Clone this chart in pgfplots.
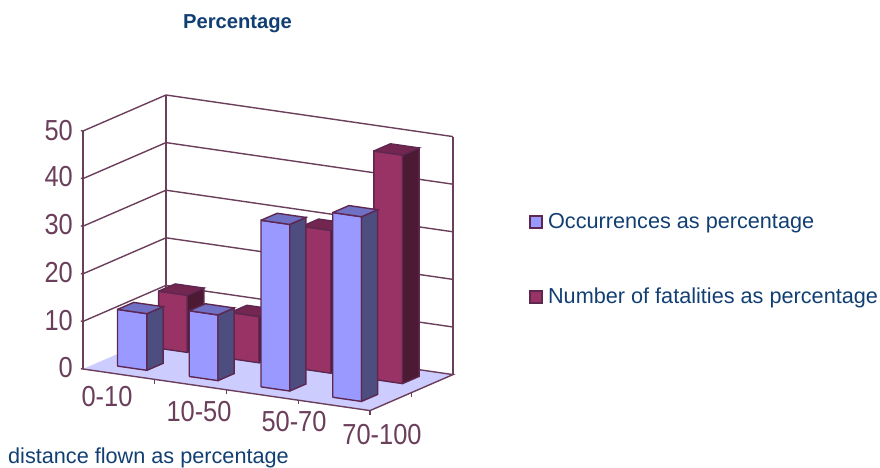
\documentclass[border=0pt]{standalone}
\usepackage{pgfplots}
\pgfplotsset{compat=1.18}
\usepackage{fontspec}
\setmainfont{Liberation Sans}
\definecolor{plum}{HTML}{6B3F5B}
\definecolor{edge}{HTML}{5E2750}
\definecolor{navy}{HTML}{123F73}
\definecolor{bluefront}{HTML}{9999FF}
\definecolor{blueside}{HTML}{4D4D80}
\definecolor{bluetop}{HTML}{7070C4}
\definecolor{redfront}{HTML}{993366}
\definecolor{redside}{HTML}{4D1A33}
\definecolor{redtop}{HTML}{732650}
\definecolor{floorc}{HTML}{CCCCFF}
% one 3-D column: x0, x1, y0, y1, value, colour prefix
\newcommand\column[6]{%
  \addplot3[forget plot,draw=edge,line width=1.4pt,fill=#6front] coordinates {(#1,#3,0)(#2,#3,0)(#2,#3,#5)(#1,#3,#5)(#1,#3,0)};
  \addplot3[forget plot,draw=edge,line width=1.4pt,fill=#6side] coordinates {(#2,#3,0)(#2,#4,0)(#2,#4,#5)(#2,#3,#5)(#2,#3,0)};
  \addplot3[forget plot,draw=edge,line width=1.4pt,fill=#6top] coordinates {(#1,#3,#5)(#2,#3,#5)(#2,#4,#5)(#1,#4,#5)(#1,#3,#5)};
}
\begin{document}
\begin{tikzpicture}[x=1pt,y=1pt]
\useasboundingbox (0,0) rectangle (880,468);
\begin{axis}[
  at={(83pt,99pt)},anchor=origin,
  x={(71.75pt,-10.4pt)},y={(83pt,36pt)},z={(0pt,4.76pt)},
  xmin=0,xmax=4,ymin=0,ymax=1,zmin=0,zmax=50,
  hide axis,clip=false,
  legend image code/.code={\draw[#1,draw=edge,line width=1.4pt] (0pt,-6pt) rectangle (12pt,6pt);\path (18pt,0pt);},
  legend style={at={(axis description cs:0,0)},anchor=south west,draw=none,fill=none,
    font=\fontsize{21.66}{24}\selectfont\color{navy},row sep=58pt,inner sep=0pt,
    nodes={inner sep=0pt,anchor=west},xshift=446pt,yshift=105pt},
]
\addlegendimage{fill=bluefront}
\addlegendimage{fill=redfront}
% floor
\addplot3[forget plot,draw=none,fill=floorc] coordinates {(0,0,0)(4,0,0)(4,1,0)(0,1,0)(0,0,0)};
\addplot3[forget plot,draw=plum,line width=1.4pt] coordinates {(0,1,0)(4,1,0)(4,0,0)(0,0,0)};
% walls and grid
\pgfplotsinvokeforeach{10,20,30,40,50}{
  \addplot3[forget plot,draw=plum,line width=1.4pt] coordinates {(0,0,#1)(0,1,#1)(4,1,#1)};
}
\pgfplotsinvokeforeach{0,10,20,30,40,50}{
  \addplot3[forget plot,draw=plum,line width=1.4pt] coordinates {(-0.03,0,#1)(0,0,#1)};
}
\addplot3[forget plot,draw=plum,line width=1.4pt] coordinates {(0,0,0)(0,0,50)};
\addplot3[forget plot,draw=plum,line width=1.4pt] coordinates {(0,1,0)(0,1,50)};
\addplot3[forget plot,draw=plum,line width=1.4pt] coordinates {(4,1,0)(4,1,50)};
% ticks
\pgfplotsinvokeforeach{1,2,3,4}{
  \addplot3[forget plot,draw=plum,line width=1.2pt] coordinates {(#1,0,0)(#1,0,-0.9)};
}
\addplot3[forget plot,draw=plum,line width=1.2pt] coordinates {(4,0.5,0)(4,0.5,-0.9)};
% fatalities
\column{0.29}{0.69}{0.66}{0.86}{12}{red}
\column{1.29}{1.69}{0.66}{0.86}{9.7}{red}
\column{2.29}{2.69}{0.66}{0.86}{30}{red}
\column{3.29}{3.69}{0.66}{0.86}{48}{red}
% occurrences
\column{0.29}{0.70}{0.165}{0.36}{11.9}{blue}
\column{1.29}{1.69}{0.165}{0.36}{13.8}{blue}
\column{2.29}{2.69}{0.165}{0.36}{35}{blue}
\column{3.29}{3.69}{0.165}{0.36}{38.8}{blue}
\legend{Occurrences as percentage,Number of fatalities as percentage}
\end{axis}
\def\tickfont{\fontsize{25.4}{28}\selectfont\color{plum}}
\newcommand\tl[1]{\scalebox{1}[1.14]{#1}}
\foreach \v/\py in {0/368,10/321,20/273,30/225,40/177,50/131}
  \node[anchor=east,inner sep=0pt,font=\tickfont] at (73,468-\py) {\tl{\v}};
\node[inner sep=0pt,font=\tickfont] at (107,468-397) {\tl{0-10}};
\node[inner sep=0pt,font=\tickfont] at (199,468-412) {\tl{10-50}};
\node[inner sep=0pt,font=\tickfont] at (294,468-422) {\tl{50-70}};
\node[inner sep=0pt,font=\tickfont] at (382,468-435) {\tl{70-100}};
\node[inner sep=0pt,anchor=west,font=\fontsize{21.66}{24}\selectfont\color{navy}] at (8,468-458) {distance flown as percentage};
\node[inner sep=0pt,font=\fontsize{20.2}{24}\selectfont\bfseries\color{navy}] at (237.5,468-24) {Percentage};
\end{tikzpicture}
\end{document}
